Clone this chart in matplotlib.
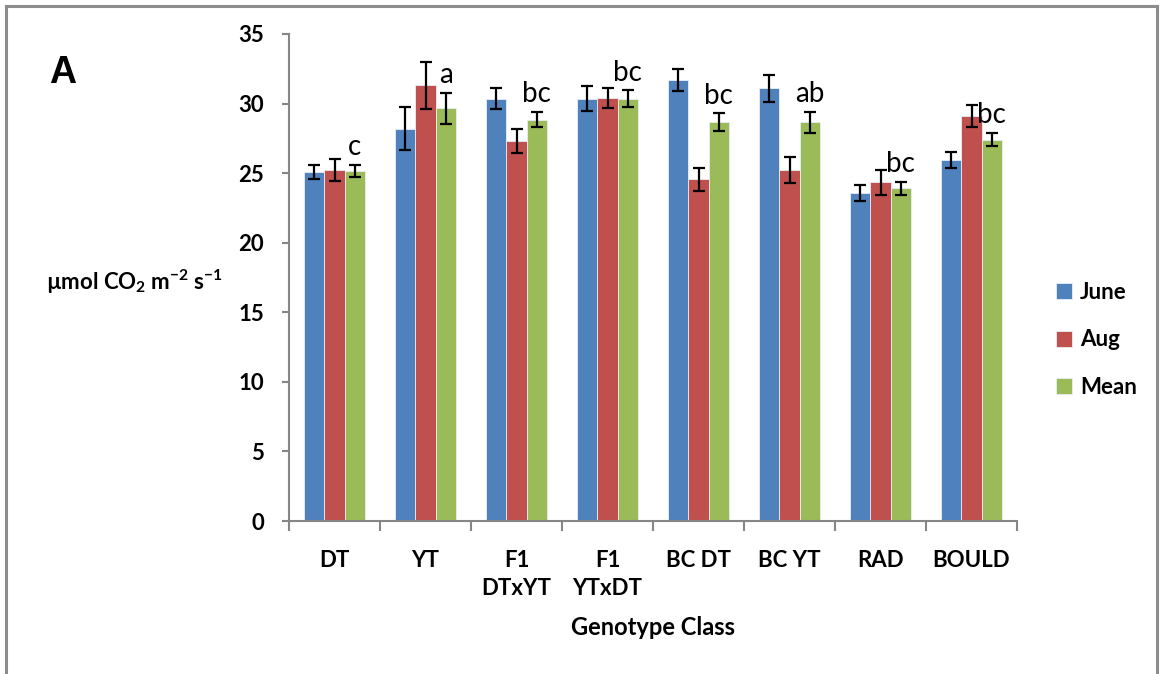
import numpy as np
import matplotlib
matplotlib.use("Agg")
import matplotlib.pyplot as plt
from matplotlib.lines import Line2D

plt.rcParams["font.family"] = ["Lato", "DejaVu Sans"]
plt.rcParams["mathtext.fontset"] = "custom"
plt.rcParams["mathtext.rm"] = "Lato"
plt.rcParams["mathtext.bf"] = "Lato:bold"

# ---- data ----
groups = ["DT", "YT", "F1\nDTxYT", "F1\nYTxDT", "BC DT", "BC YT", "RAD", "BOULD"]
june = [25.1, 28.2, 30.35, 30.35, 31.7, 31.1, 23.6, 25.95]
june_err = [0.49, 1.52, 0.76, 0.90, 0.77, 0.98, 0.57, 0.55]
aug = [25.2, 31.3, 27.3, 30.4, 24.55, 25.25, 24.35, 29.1]
aug_err = [0.80, 1.70, 0.84, 0.70, 0.84, 0.93, 0.90, 0.79]
mean = [25.15, 29.65, 28.85, 30.35, 28.65, 28.65, 23.9, 27.4]
mean_err = [0.46, 1.14, 0.54, 0.59, 0.64, 0.73, 0.49, 0.48]
letters = ["c", "a", "bc", "bc", "bc", "ab", "bc", "bc"]

BLUE, RED, GREEN = "#4F81BD", "#C0504D", "#9BBB59"
AXC = "#868686"
FS = 16

fig = plt.figure(figsize=(11.61, 6.74), dpi=100)
fig.patch.set_facecolor("white")
ax = fig.add_axes([289 / 1161, 1 - 521 / 674, (1017 - 289) / 1161, (521 - 34) / 674])

x = np.arange(len(groups))
w = 0.22
ekw = dict(lw=1.6, capthick=1.6, ecolor="black")
for off, vals, errs, col, lab in [(-w, june, june_err, BLUE, "June"),
                                  (0, aug, aug_err, RED, "Aug"),
                                  (w, mean, mean_err, GREEN, "Mean")]:
    ax.bar(x + off, vals, width=w, yerr=errs, color=col, edgecolor="#e8eef6",
           linewidth=0.6, capsize=4.5, error_kw=ekw, label=lab, zorder=2)

for xi, m, e, t in zip(x, mean, mean_err, letters):
    ax.text(xi + w, m + e + 0.7, t, ha="center", va="baseline", fontsize=20)

ax.set_xlim(-0.5, len(groups) - 0.5)
ax.set_ylim(0, 35)
ax.set_yticks(np.arange(0, 36, 5))
ax.set_xticks(x)
ax.set_xticklabels(groups, fontweight="bold", fontsize=FS, linespacing=1.4)
ax.set_xticks(np.arange(-0.5, len(groups)), minor=True)
ax.tick_params(axis="x", which="major", length=0, pad=21)
ax.tick_params(axis="x", which="minor", length=7, width=1.5, color=AXC)
ax.tick_params(axis="y", length=5, width=1.5, color=AXC, pad=13, labelsize=FS)
for lb in ax.get_yticklabels():
    lb.set_fontweight("bold")
for s in ["top", "right"]:
    ax.spines[s].set_visible(False)
for s in ["left", "bottom"]:
    ax.spines[s].set_color(AXC)
    ax.spines[s].set_linewidth(1.5)

ax.set_xlabel("Genotype Class", fontsize=FS + 1, fontweight="bold", labelpad=12)
fig.text(135 / 1161, 1 - 282 / 674,
         r"µmol CO$_\mathbf{2}$ m$^\mathbf{-2}$ s$^\mathbf{-1}$",
         ha="center", va="center", fontsize=FS, fontweight="bold")
fig.text(63 / 1161, 1 - 73 / 674, "A", ha="center", va="center", fontsize=27,
         fontweight="bold", family=["Liberation Sans", "DejaVu Sans"])

fig.legend(loc="center left", bbox_to_anchor=(1045 / 1161, 1 - 340 / 674), frameon=False,
           prop=dict(weight="bold", size=FS), handlelength=0.72,
           handleheight=0.72, handletextpad=0.35, labelspacing=1.2, borderpad=0)

# outer frame (bottom edge is cut off in the reference)
for xs, ys in [([6, 6], [680, 6]), ([6, 1157], [6, 6]), ([1157, 1157], [6, 680])]:
    fig.add_artist(Line2D([v / 1161 for v in xs], [1 - v / 674 for v in ys],
                          color="#8c8c8c", lw=2.2, transform=fig.transFigure))

fig.savefig("out.png", dpi=100, facecolor="white")
